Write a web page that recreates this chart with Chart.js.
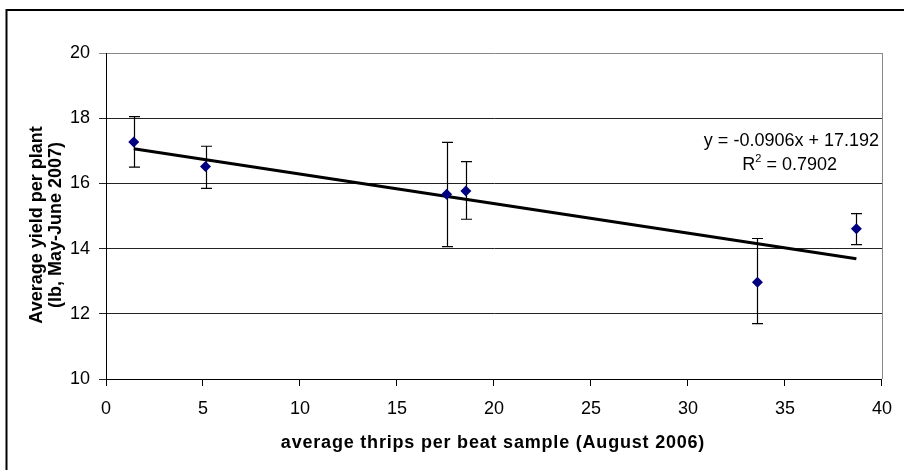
<!DOCTYPE html>
<html>
<head>
<meta charset="utf-8">
<script src="https://cdn.jsdelivr.net/npm/chart.js@4.4.1/dist/chart.umd.min.js"></script>
<style>
  html, body { margin: 0; padding: 0; background: #fff; }
  #wrap { width: 904px; height: 470px; position: relative; }
</style>
</head>
<body>
<div id="wrap"><canvas id="ch"></canvas></div>
<script>
'use strict';
// thrips vs yield
const thrips   = [1.43, 5.13, 17.56, 18.55, 33.58, 38.68];
const yieldAvg = [17.27, 16.52, 15.67, 15.77, 12.97, 14.61];
const errLow   = [16.50, 15.85, 14.06, 14.90, 11.70, 14.12];
const errHigh  = [18.05, 17.14, 17.26, 16.67, 14.31, 15.07];
// linear trend endpoints (y = -0.0906x + 17.192)
const trendX   = [1.43, 38.68];
const trendY   = [17.06, 13.69];
const eqLines  = ['y = -0.0906x + 17.192', 'R² = 0.7902'];
const xTitle   = 'average thrips per beat sample (August 2006)';
const yTitle   = ['Average yield per plant', '(lb, May-June 2007)'];

const FONT = "'Liberation Sans', Arial, sans-serif";

const frame = {
  id: 'frame',
  beforeDraw(c) {
    const ctx = c.ctx;
    ctx.save();
    ctx.fillStyle = '#fff';
    ctx.fillRect(0, 0, c.width, c.height);
    ctx.strokeStyle = '#000';
    ctx.lineWidth = 2;
    ctx.strokeRect(6.5, 10, 1000, 1000);
    ctx.restore();
  },
  afterDraw(c) {
    const { ctx, chartArea: a } = c;
    ctx.save();
    ctx.strokeStyle = '#888';
    ctx.lineWidth = 1;
    ctx.beginPath();
    ctx.moveTo(a.right + 0.5, a.top);
    ctx.lineTo(a.right + 0.5, a.bottom);
    ctx.stroke();

    // axis titles
    ctx.fillStyle = '#000';
    ctx.font = 'bold 18px ' + FONT;
    ctx.textAlign = 'center';
    ctx.textBaseline = 'middle';
    ctx.letterSpacing = '0.8px';
    ctx.fillText(xTitle, 493, 443);
    ctx.letterSpacing = '0px';
    ctx.save();
    ctx.translate(37, 225);
    ctx.rotate(-Math.PI / 2);
    ctx.fillText(yTitle[0], 0, 0);
    ctx.fillText(yTitle[1], 0, 19);
    ctx.restore();

    // equation label
    ctx.font = '18px ' + FONT;
    ctx.textAlign = 'right';
    ctx.textBaseline = 'alphabetic';
    ctx.fillText(eqLines[0], 879, 146);
    const r = eqLines[1].split('²');
    const w2 = ctx.measureText(r[1]).width;
    ctx.fillText(r[1], 837, 170);
    ctx.font = '11px ' + FONT;
    const ws = ctx.measureText('2').width;
    ctx.fillText('2', 837 - w2, 162);
    ctx.font = '18px ' + FONT;
    ctx.fillText(r[0], 837 - w2 - ws, 170);
    ctx.restore();
  }
};

const errorBars = {
  id: 'errorBars',
  beforeDatasetsDraw(c) {
    const { ctx, scales: { x, y } } = c;
    ctx.save();
    ctx.strokeStyle = '#000';
    ctx.lineWidth = 1.2;
    thrips.forEach((tx, i) => {
      const px = Math.round(x.getPixelForValue(tx)) + 0.5;
      const lo = y.getPixelForValue(errLow[i]);
      const hi = y.getPixelForValue(errHigh[i]);
      ctx.beginPath();
      ctx.moveTo(px, lo); ctx.lineTo(px, hi);
      ctx.moveTo(px - 5.5, lo); ctx.lineTo(px + 5.5, lo);
      ctx.moveTo(px - 5.5, hi); ctx.lineTo(px + 5.5, hi);
      ctx.stroke();
    });
    ctx.restore();
  }
};

new Chart(document.getElementById('ch'), {
  type: 'scatter',
  data: {
    datasets: [
      {
        label: 'trend',
        data: trendX.map((v, i) => ({ x: v, y: trendY[i] })),
        showLine: true,
        borderColor: '#000',
        borderWidth: 3,
        pointRadius: 0,
        order: 2
      },
      {
        label: 'yield',
        data: thrips.map((v, i) => ({ x: v, y: yieldAvg[i] })),
        pointStyle: 'rectRot',
        pointRadius: 5.5,
        backgroundColor: '#000080',
        borderColor: '#000080',
        borderWidth: 0,
        order: 1
      }
    ]
  },
  options: {
    responsive: true,
    maintainAspectRatio: false,
    animation: false,
    devicePixelRatio: 1,
    layout: { padding: { left: 6, top: 53, right: 13, bottom: 0 } },
    plugins: { legend: { display: false }, tooltip: { enabled: false } },
    scales: {
      x: {
        type: 'linear', min: 0, max: 40,
        afterFit: s => { s.height = 91; },
        ticks: { stepSize: 5, color: '#000', padding: 12, font: { family: FONT, size: 18 } },
        grid: { drawOnChartArea: false, tickLength: 7, color: '#000' },
        border: { color: '#000', width: 1 }
      },
      y: {
        min: 10, max: 20,
        afterFit: s => { s.width = 100; },
        ticks: { stepSize: 2, color: '#000', padding: 9, font: { family: FONT, size: 18 } },
        grid: { tickLength: 7, color: ctx => ctx.tick && ctx.tick.value === 20 ? '#888' : '#222' },
        border: { color: '#000', width: 1 }
      }
    }
  },
  plugins: [frame, errorBars]
});
</script>
</body>
</html>
